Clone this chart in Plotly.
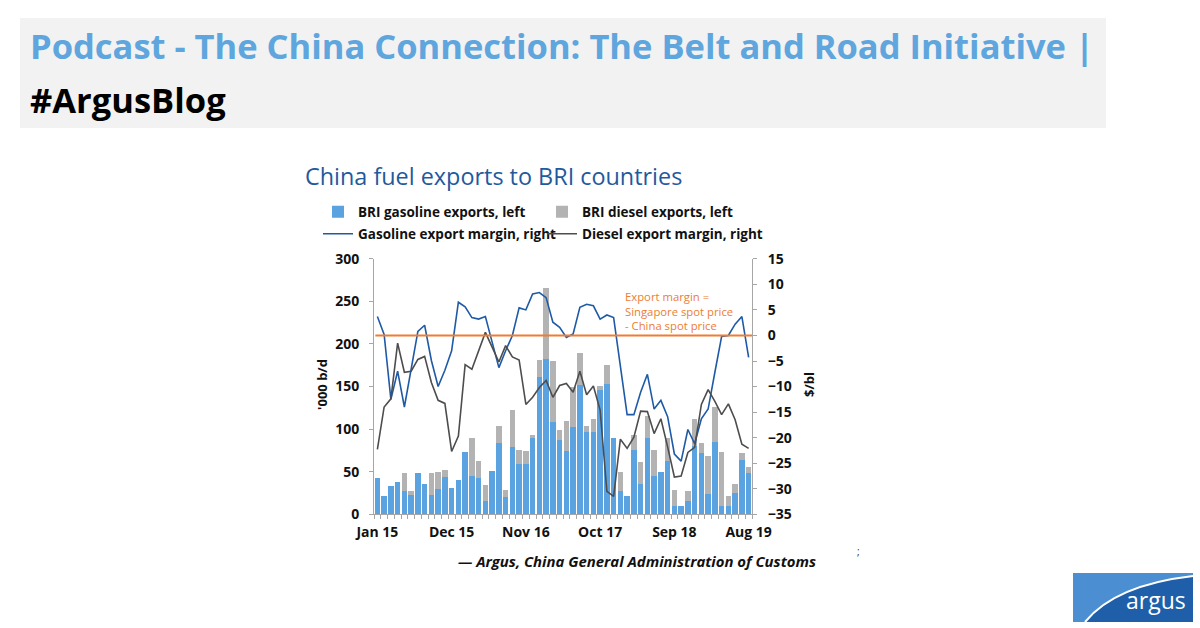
import plotly.graph_objects as go
import pandas as pd

W, H = 1200, 628

# ---------------- data ----------------
months = [d.strftime("%b %y") for d in pd.date_range("2015-01-01", periods=56, freq="MS")]
tick_labels = ["Jan 15", "Dec 15", "Nov 16", "Oct 17", "Sep 18", "Aug 19"]

gasoline_exports = [43, 22, 33, 38, 27, 23, 49, 35, 23, 30,
                    44, 31, 40, 73, 45, 43, 16, 51, 84, 20,
                    79, 59, 59, 89, 161, 182, 108, 87, 74, 103,
                    152, 97, 97, 146, 153, 89, 27, 22, 76, 36,
                    90, 45, 50, 62, 10, 10, 16, 80, 72, 24,
                    85, 10, 10, 25, 64, 48]
total_exports = [43, 22, 33, 38, 49, 27, 49, 35, 48, 50,
                 52, 31, 40, 73, 89, 62, 34, 51, 104, 29,
                 123, 75, 74, 93, 181, 266, 180, 99, 110, 150,
                 189, 104, 112, 151, 175, 89, 50, 22, 93, 61,
                 115, 75, 50, 90, 29, 10, 27, 112, 84, 69,
                 126, 73, 21, 36, 72, 56]
diesel_exports = [t - g for t, g in zip(total_exports, gasoline_exports)]

gasoline_margin = [3.7, 0.2, -12.5, -7.0, -14.0, -6.5, 0.8, 2.0, -4.9, -10.0,
                   -6.8, -3.0, 6.5, 5.6, 3.5, 3.2, 3.7, -1.3, -6.3, -3.0,
                   0.0, 5.4, 5.0, 8.1, 8.4, 7.4, 2.6, 1.6, -0.4, 0.3,
                   5.5, 6.1, 5.8, 3.2, 4.0, 3.5, -6.0, -15.5, -15.5, -11.1,
                   -7.6, -14.4, -12.7, -15.9, -23.2, -24.6, -18.4, -21.2, -16.3, -14.4,
                   -7.2, -0.2, 0.0, 2.2, 3.7, -4.3]
diesel_margin = [-22.3, -14.0, -12.4, -1.5, -7.2, -7.0, -4.7, -4.1, -9.2, -12.7,
                 -13.3, -22.7, -19.7, -5.7, -6.6, -3.2, 0.6, -2.3, -5.2, -2.0,
                 -4.2, -4.8, -13.5, -12.1, -10.2, -8.8, -12.1, -9.8, -9.4, -11.1,
                 -7.0, -11.6, -9.9, -14.6, -30.5, -31.5, -20.3, -22.1, -19.9, -14.8,
                 -14.9, -19.2, -16.3, -21.8, -27.7, -27.5, -22.9, -21.9, -13.5, -10.6,
                 -12.9, -15.5, -13.4, -16.5, -21.3, -22.1]
margin_zero = 0

# ---------------- helpers ----------------
def px(x):
    return x / W

def py(y):
    return 1 - y / H

x_idx = list(range(len(months)))
tickvals = [months.index(t) for t in tick_labels]

FONT = "Open Sans"
BLUE_BAR = "#5BA3E0"
GREY_BAR = "#B3B3B3"
BLUE_LINE = "#1F5AA6"
GREY_LINE = "#4D4D4D"
ORANGE = "#ED7D31"
AXIS_GREY = "#A6A6A6"

fig = go.Figure()
fig.add_trace(go.Bar(x=x_idx, y=gasoline_exports, name="BRI gasoline exports, left",
                     marker=dict(color=BLUE_BAR, line=dict(width=0)), customdata=months,
                     hovertemplate="%{customdata}: %{y}<extra></extra>", legend="legend"))
fig.add_trace(go.Bar(x=x_idx, y=diesel_exports, name="BRI diesel exports, left",
                     marker=dict(color=GREY_BAR, line=dict(width=0)), customdata=months,
                     hovertemplate="%{customdata}: %{y}<extra></extra>", legend="legend"))
fig.add_trace(go.Scatter(x=x_idx, y=gasoline_margin, name="Gasoline export margin, right",
                         mode="lines", line=dict(color=BLUE_LINE, width=1.6), yaxis="y2",
                         customdata=months, hovertemplate="%{customdata}: %{y}<extra></extra>",
                         legend="legend2"))
fig.add_trace(go.Scatter(x=x_idx, y=diesel_margin, name="Diesel export margin, right",
                         mode="lines", line=dict(color=GREY_LINE, width=1.6), yaxis="y2",
                         customdata=months, hovertemplate="%{customdata}: %{y}<extra></extra>",
                         legend="legend2"))

fig.add_shape(type="line", xref="x", yref="y2", x0=x_idx[0] - 0.3, x1=x_idx[-1] + 0.5,
              y0=margin_zero, y1=margin_zero, line=dict(color=ORANGE, width=2), layer="above")

xd = [px(374), px(752)]
yd = [py(514.3), py(258.8)]

tickfont = dict(family=FONT, size=14, color="#111111", weight="bold")
legfont = dict(family=FONT, size=13.5, color="#111111", weight="bold")

fig.update_layout(
    width=W, height=H,
    margin=dict(l=0, r=0, t=0, b=0, autoexpand=False),
    paper_bgcolor="white", plot_bgcolor="white",
    barmode="stack", bargap=0.22,
    showlegend=True,
    xaxis=dict(domain=xd, range=[-0.5, len(months) - 0.5], tickmode="array",
               tickvals=tickvals, ticktext=tick_labels, ticks="", showgrid=False,
               zeroline=False, showline=True, linecolor=AXIS_GREY, linewidth=1,
               tickfont=tickfont, ticklabelstandoff=5, automargin=False,
               minor=dict(ticks="outside", tick0=-0.5, dtick=1, ticklen=4,
                          tickcolor=AXIS_GREY, showgrid=False)),
    yaxis=dict(domain=yd, range=[0, 300], dtick=50, showgrid=False, zeroline=False,
               showline=True, linecolor=AXIS_GREY, ticks="outside", ticklen=4,
               tickcolor=AXIS_GREY, tickfont=tickfont, anchor="x", automargin=False,
               ticklabelstandoff=7),
    yaxis2=dict(domain=yd, range=[-35, 15], dtick=5, overlaying="y", side="right",
                anchor="x", showgrid=False, zeroline=False, showline=True,
                linecolor=AXIS_GREY, ticks="outside", ticklen=4, tickcolor=AXIS_GREY,
                tickfont=tickfont, automargin=False, ticklabelstandoff=8),
    legend=dict(orientation="h", x=px(318), xanchor="left", y=py(212), yanchor="middle",
                entrywidth=179, entrywidthmode="pixels", bgcolor="rgba(0,0,0,0)",
                font=legfont, traceorder="normal",
                itemclick=False, itemdoubleclick=False, tracegroupgap=0),
    legend2=dict(orientation="h", x=px(318), xanchor="left", y=py(234), yanchor="middle",
                 entrywidth=179, entrywidthmode="pixels", bgcolor="rgba(0,0,0,0)",
                 font=legfont, traceorder="normal",
                 itemclick=False, itemdoubleclick=False, tracegroupgap=0),
)

# header box
fig.add_shape(type="rect", xref="paper", yref="paper", x0=px(20), x1=px(1106),
              y0=py(128), y1=py(18), fillcolor="#F2F2F2", line=dict(width=0), layer="below")

annots = [
    dict(text="Podcast - The China Connection: The Belt and Road Initiative |",
         x=px(28), y=py(46), xanchor="left", yanchor="middle",
         font=dict(family=FONT, size=34.5, color="#5EA6DD", weight="bold")),
    dict(text="#ArgusBlog", x=px(28), y=py(99), xanchor="left", yanchor="middle",
         font=dict(family=FONT, size=34.5, color="#000000", weight="bold")),
    dict(text="China fuel exports to BRI countries", x=px(303), y=py(176),
         xanchor="left", yanchor="middle",
         font=dict(family=FONT, size=23.4, color="#1F5A9E")),
    dict(text="'000 b/d", x=px(322), y=py(385), xanchor="center", yanchor="middle",
         textangle=-90, font=dict(family=FONT, size=13, color="#111111", weight="bold")),
    dict(text="$/bl", x=px(809), y=py(385), xanchor="center", yanchor="middle",
         textangle=-90, font=dict(family=FONT, size=13, color="#111111", weight="bold")),
    dict(text="Export margin =<br>Singapore spot price<br>- China spot price",
         x=px(623), y=py(311), xanchor="left", yanchor="middle", align="left",
         font=dict(family=FONT, size=11.3, color=ORANGE)),
    dict(text="— Argus, China General Administration of Customs", x=px(456), y=py(561),
         xanchor="left", yanchor="middle",
         font=dict(family=FONT, size=14.9, color="#111111", weight="bold", style="italic")),
    dict(text=";", x=px(858), y=py(551), xanchor="center", yanchor="middle",
         font=dict(family=FONT, size=10, color="#333333")),
    dict(text="argus", x=px(1156), y=py(600), xanchor="center", yanchor="middle",
         font=dict(family=FONT, size=23, color="white")),
]
for a in annots:
    a.setdefault("xref", "paper")
    a.setdefault("yref", "paper")
    a["showarrow"] = False
    fig.add_annotation(**a)

# argus logo
fig.add_shape(type="rect", xref="paper", yref="paper", x0=px(1073), x1=px(1193),
              y0=py(622), y1=py(573), fillcolor="#1F5FAA", line=dict(width=0), layer="above")
lp = (f"M {px(1073)} {py(573)} L {px(1193)} {py(573)} L {px(1193)} {py(576)} "
      f"Q {px(1115)} {py(585)} {px(1085)} {py(622)} L {px(1073)} {py(622)} Z")
fig.add_shape(type="path", xref="paper", yref="paper", path=lp,
              fillcolor="#4C8ED2", line=dict(width=0), layer="above")
cp = f"M {px(1085)} {py(622)} Q {px(1115)} {py(585)} {px(1193)} {py(576)}"
fig.add_shape(type="path", xref="paper", yref="paper", path=cp,
              line=dict(color="white", width=2), layer="above")

fig.write_html("out.html", config={"displayModeBar": False},
               post_script="document.body.style.margin='0px';"
                           "document.body.style.overflow='hidden';")
